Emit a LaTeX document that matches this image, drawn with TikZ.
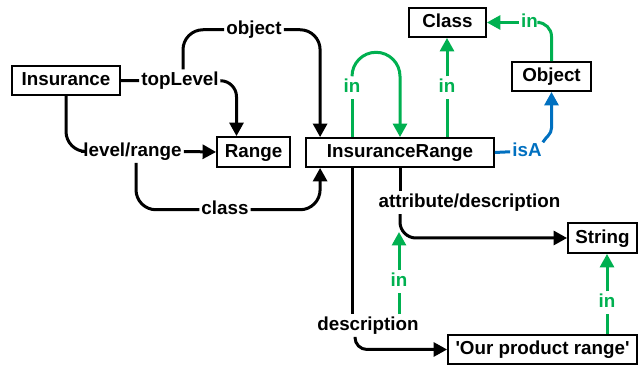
\documentclass[tikz,border=0pt]{standalone}
\usepackage{fontspec}
\setmainfont{Liberation Sans}
\usetikzlibrary{arrows.meta,calc}
\definecolor{ingreen}{RGB}{0,176,80}
\definecolor{isablue}{RGB}{0,112,192}
\begin{document}
\begin{tikzpicture}[x=1pt,y=1pt,
  every node/.style={font=\fontsize{18.8}{22}\selectfont\bfseries,
    text height=14.5pt, text depth=4pt},
  nbox/.style={draw, line width=1.8pt, inner xsep=0pt, inner ysep=0pt,
    minimum height=29pt},
  lbl/.style={inner sep=2pt},
  conn/.style={line width=3pt, draw=black, rounded corners=18pt},
  gconn/.style={conn, draw=ingreen},
  bconn/.style={conn, draw=isablue},
  arr/.style={-{Triangle[length=13.5pt,width=14pt]}}]
\useasboundingbox (0,0) rectangle (638,-366);

% classes and objects
\node[nbox, minimum width=108pt] (ins) at (66,-80.5) {Insurance};
\node[nbox, minimum width=73pt, minimum height=30pt] (rng) at (253.5,-152) {Range};
\node[nbox, minimum width=188pt] (ir) at (400,-152.5) {InsuranceRange};
\node[nbox, minimum width=77pt] (cls) at (447.5,-22.5) {Class};
\node[nbox, minimum width=79pt] (obj) at (551.5,-76.5) {Object};
\node[nbox, minimum width=69pt, minimum height=30pt] (str) at (602.5,-238) {String};
\node[nbox, minimum width=189pt] (opr) at (542.5,-349.5)
  {\textquotesingle Our product range\textquotesingle};

% link labels
\node[lbl] (tl) at (180,-80.75) {topLevel};
\node[lbl] (ob) at (254,-29.75) {object};
\node[lbl] (lr) at (132.5,-151.5) {level/range};
\node[lbl] (cl) at (225,-209.75) {class};
\node[lbl, text=ingreen] (inL) at (352,-87.75) {in};
\node[lbl, text=ingreen] (inC) at (447,-87.75) {in};
\node[lbl, text=ingreen] (inO) at (529.5,-22.5) {in};
\node[lbl, text=isablue] (isa) at (527,-151.75) {isA};
\node[lbl] (att) at (469.5,-202.75) {attribute/description};
\node[lbl] (des) at (368,-325.5) {description};
\node[lbl, text=ingreen] (inD) at (399,-281.5) {in};
\node[lbl, text=ingreen] (inS) at (607,-302.75) {in};

\coordinate (attbend) at (399,-232);

% Insurance links
\draw[conn] (ins.east) -- (tl.west);
\draw[conn, arr, rounded corners=16pt] (tl.east) -| ($(rng.north)+(-17,0)$);
\draw[conn, rounded corners=20pt] ($(tl.north)+(3,0)$) |- (ob.west);
\draw[conn, arr, rounded corners=20pt] (ob.east) -| ($(ir.north west)+(15,0)$);
\draw[conn, rounded corners=20pt] (ins.south) |- (lr.west);
\draw[conn, arr] (lr.east) -- (rng.west);
\draw[conn, rounded corners=20pt] ($(lr.south)+(3.5,0)$) |- (cl.west);
\draw[conn, arr, rounded corners=20pt] (cl.east) -| ($(ir.south west)+(15,0)$);

% instance-of links
\draw[gconn] (ir.north -| inL) -- (inL.south);
\draw[gconn, arr, sharp corners] (inL.north) arc[start angle=180, end angle=0, radius=24]
  -- (ir.north);
\draw[gconn] (ir.north -| inC) -- (inC.south);
\draw[gconn, arr] (inC.north) -- (inC |- cls.south);
\draw[gconn, rounded corners=14pt] (obj.north) |- (inO.east);
\draw[gconn, arr] (inO.west) -- (cls.east);

% specialisation
\draw[bconn] (ir.east) -- (isa.west);
\draw[bconn, arr, sharp corners] ($(isa.north east)+(-1,-2)$) to[out=60, in=-90]
  ($(obj.south)+(0,-36)$) -- (obj.south);

% attributes
\draw[conn] (ir.south) -- (ir.south |- att.north);
\draw[conn, arr, rounded corners=16pt] (ir.south |- att.south) |- (str.west);
\draw[conn] (ir.south -| inL) -- (des.north -| inL);
\draw[conn, arr, rounded corners=12pt] ($(des.south -| inL)+(3,0)$) |- (opr.west);
\draw[gconn] (des.north -| inD) -- (inD.south);
\draw[gconn, arr] (inD.north) -- (attbend);
\draw[gconn] (opr.north -| inS) -- (inS.south);
\draw[gconn, arr] (inS.north) -- (inS |- str.south);
\end{tikzpicture}
\end{document}
